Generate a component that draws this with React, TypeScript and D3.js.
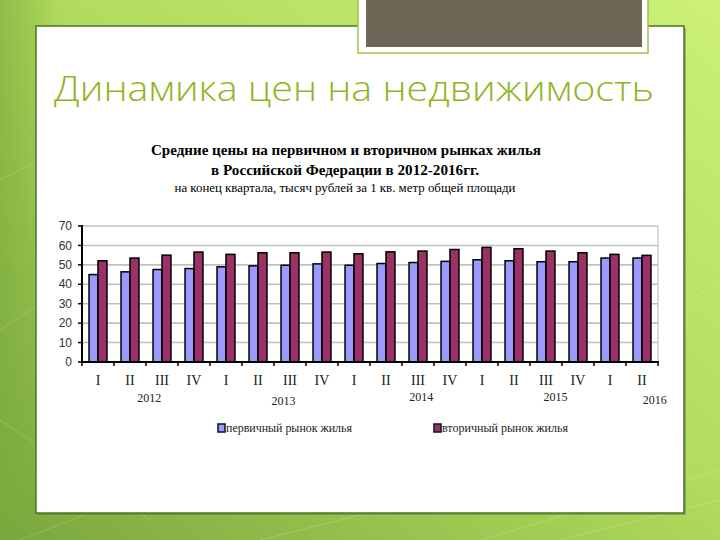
import React from 'react';
import * as d3 from 'd3';

const quarters = ['I', 'II', 'III', 'IV', 'I', 'II', 'III', 'IV', 'I', 'II', 'III', 'IV', 'I', 'II', 'III', 'IV', 'I', 'II'];
const primaryPrices = [45.0, 46.4, 47.6, 48.1, 49.0, 49.5, 49.8, 50.5, 49.8, 50.7, 51.2, 51.8, 52.6, 52.1, 51.6, 51.6, 53.5, 53.5];
const secondaryPrices = [52.1, 53.5, 55.0, 56.6, 55.4, 56.2, 56.2, 56.6, 55.7, 56.7, 57.1, 57.9, 59.0, 58.3, 57.1, 56.2, 55.4, 54.9];
const yearLabels = ['2012', '2013', '2014', '2015', '2016'];
const yearLabelAt = [2.1, 6.3, 10.6, 14.8, 17.9];
const yearLabelDy = [0, 3, -1, -1, 2];
const yTicks = [0, 10, 20, 30, 40, 50, 60, 70];
const seriesNames = ['первичный рынок жилья', 'вторичный рынок жилья'];
const seriesColors = ['#9999ff', '#993366'];
const heading = 'Динамика цен на недвижимость';
const titleLines = ['Средние цены на первичном и вторичном рынках жилья', 'в Российской Федерации в 2012-2016гг.'];
const subtitle = 'на конец квартала, тысяч рублей за 1 кв. метр общей площади';

export default function App() {
  const W = 720, H = 540;
  const plot = { left: 82, right: 658, top: 226, bottom: 362 };
  const keys = quarters.map((_, i) => String(i));
  const x = d3.scaleBand().domain(keys).range([plot.left, plot.right]).paddingInner(0.44).paddingOuter(0.22);
  const xs = d3.scaleBand().domain(['0', '1']).range([0, x.bandwidth()]);
  const y = d3.scaleLinear().domain([0, 70]).range([plot.bottom, plot.top]);
  const step = x.step();
  const series = [primaryPrices, secondaryPrices];
  const serif = '"Liberation Serif", "Times New Roman", serif';
  const sans = '"Liberation Sans", Arial, sans-serif';

  const bgLines = [
    [0, 330, 120, 250], [0, 420, 150, 520], [20, 540, 200, 470], [480, 540, 720, 470],
    [560, 540, 720, 500], [0, 180, 60, 150], [690, 300, 720, 280], [260, 540, 420, 500],
  ];

  return (
    <div style={{ position: 'absolute', left: 0, top: 0, width: W, height: H }}>
      <svg width={W} height={H} viewBox={`0 0 ${W} ${H}`} style={{ display: 'block' }}>
        <defs>
          <linearGradient id="bg" x1="1" y1="0" x2="0" y2="1">
            <stop offset="0" stopColor="#ccf078" />
            <stop offset="0.45" stopColor="#b2dc5e" />
            <stop offset="1" stopColor="#7ba83e" />
          </linearGradient>
          <linearGradient id="bgL" x1="0" y1="0" x2="1" y2="0">
            <stop offset="0" stopColor="#78a83a" stopOpacity="0.55" />
            <stop offset="1" stopColor="#78a83a" stopOpacity="0" />
          </linearGradient>
        </defs>
        <rect x={0} y={0} width={W} height={H} fill="url(#bg)" />
        <rect x={0} y={0} width={60} height={H} fill="url(#bgL)" />
        {bgLines.map((l, i) => (
          <line key={i} x1={l[0]} y1={l[1]} x2={l[2]} y2={l[3]} stroke="#ffffff" strokeOpacity={0.18} strokeWidth={1} />
        ))}

        {/* white panel */}
        <rect x={38} y={28} width={648} height={487} fill="#3f5f1c" opacity={0.35} />
        <rect x={36} y={26} width={648} height={487} fill="#ffffff" stroke="#4f7426" strokeWidth={1.5} />

        {/* dark box */}
        <rect x={358} y={-4} width={290} height={57} fill="#ffffff" stroke="#9cc44a" strokeWidth={1.5} />
        <rect x={366} y={-4} width={276} height={51} fill="#6e6758" />

        <text x={54} y={101} fontFamily='"Open Sans", "DejaVu Sans", sans-serif' fontWeight={300} fontSize={34}
          fill="#8fb51f" textLength={600} lengthAdjust="spacingAndGlyphs">{heading}</text>

        {/* chart titles */}
        <text x={346} y={155} textAnchor="middle" fontFamily={serif} fontWeight="bold" fontSize={15} fill="#000"
          textLength={390} lengthAdjust="spacingAndGlyphs">{titleLines[0]}</text>
        <text x={345} y={175} textAnchor="middle" fontFamily={serif} fontWeight="bold" fontSize={15} fill="#000"
          textLength={268} lengthAdjust="spacingAndGlyphs">{titleLines[1]}</text>
        <text x={345} y={192} textAnchor="middle" fontFamily={serif} fontSize={12.5} fill="#000"
          textLength={341} lengthAdjust="spacingAndGlyphs">{subtitle}</text>

        {/* gridlines */}
        {yTicks.filter(t => t > 0).map(t => (
          <line key={t} x1={plot.left} x2={plot.right} y1={y(t)} y2={y(t)} stroke="#c0c0c0" strokeWidth={1.6} />
        ))}
        <line x1={plot.right} x2={plot.right} y1={y(70)} y2={y(0)} stroke="#c0c0c0" strokeWidth={1.2} />

        {/* bars */}
        {series.map((vals, si) => vals.map((v, i) => (
          <rect key={`${si}-${i}`} x={(x(keys[i]) ?? 0) + (xs(String(si)) ?? 0)} y={y(v)}
            width={xs.bandwidth()} height={y(0) - y(v)} fill={seriesColors[si]} stroke="#000" strokeWidth={1.5} />
        )))}

        {/* axes */}
        <line x1={plot.left} x2={plot.left} y1={y(70) - 1} y2={y(0) + 1} stroke="#000" strokeWidth={2} />
        <line x1={plot.left - 1} x2={plot.right + 1} y1={y(0)} y2={y(0)} stroke="#000" strokeWidth={2} />
        {yTicks.map(t => (
          <g key={t}>
            <line x1={plot.left - 4} x2={plot.left} y1={y(t)} y2={y(t)} stroke="#000" strokeWidth={1.5} />
            <text x={72} y={y(t)} dy="0.35em" textAnchor="end" fontFamily={sans} fontSize={12} fill="#333">{t}</text>
          </g>
        ))}
        {d3.range(quarters.length + 1).map(i => (
          <line key={i} x1={plot.left + i * step} x2={plot.left + i * step} y1={y(0)} y2={y(0) + 4} stroke="#000" strokeWidth={1.5} />
        ))}
        {quarters.map((q, i) => (
          <text key={i} x={(x(keys[i]) ?? 0) + x.bandwidth() / 2} y={385} textAnchor="middle" fontFamily={serif}
            fontSize={14} fill="#222">{q}</text>
        ))}
        {yearLabels.map((yl, i) => (
          <text key={yl} x={plot.left + step * yearLabelAt[i]} y={402 + yearLabelDy[i]} textAnchor="middle"
            fontFamily={serif} fontSize={12} fill="#222">{yl}</text>
        ))}

        {/* legend */}
        {seriesNames.map((n, i) => {
          const lx = i === 0 ? 218 : 434;
          return (
            <g key={n}>
              <rect x={lx} y={424} width={7} height={8} fill={seriesColors[i]} stroke="#1a1a3a" strokeWidth={1.6} />
              <text x={lx + 8} y={432} fontFamily={serif} fontSize={12.5} fill="#222"
                textLength={126} lengthAdjust="spacingAndGlyphs">{n}</text>
            </g>
          );
        })}
      </svg>
    </div>
  );
}
